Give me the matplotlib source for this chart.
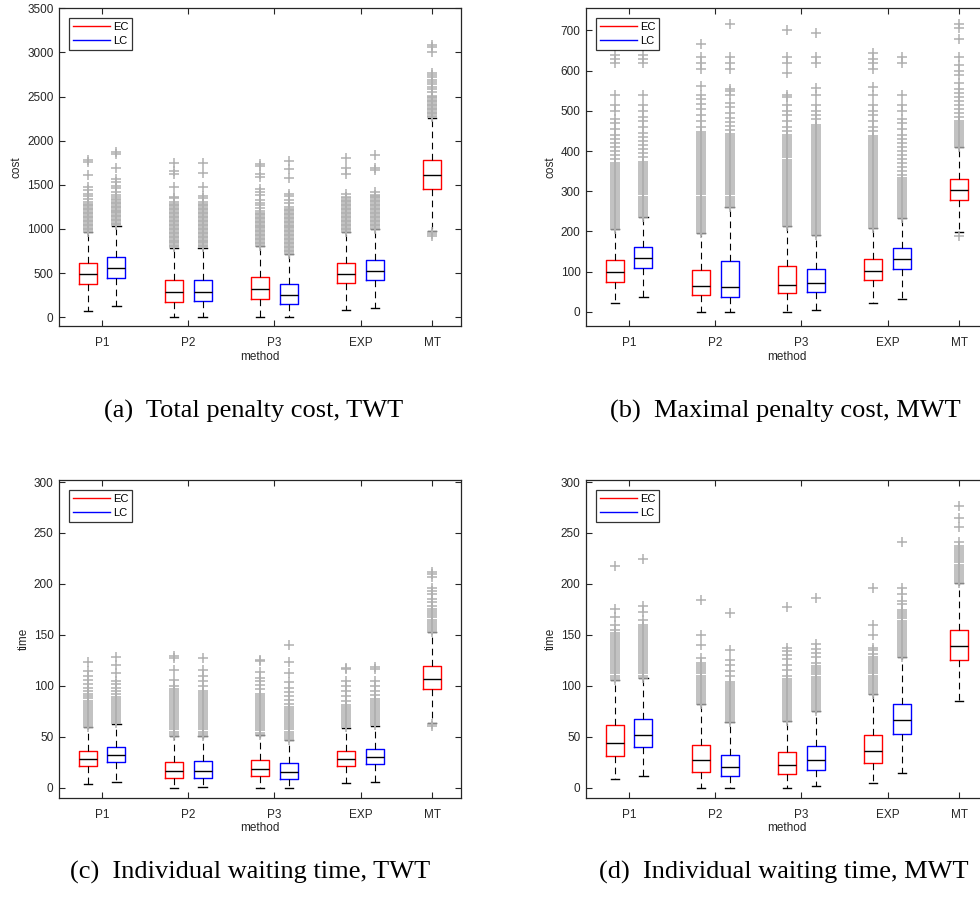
import matplotlib
matplotlib.use("Agg")
import matplotlib.pyplot as plt
from matplotlib.lines import Line2D

# ==============================
# Data: box summaries [whisker low, q1, median, q3, whisker high]
# groups: P1, P2, P3, EXP, MT  (MT only has an EC box)
# ==============================
methods = ["P1", "P2", "P3", "EXP", "MT"]

# (a) total penalty cost, TWT
a_ec_box = [[72, 375, 485, 614, 966], [0, 170, 280, 417, 784], [4, 205, 314, 451, 810],
            [83, 383, 492, 614, 966], [981, 1455, 1606, 1777, 2261]]
a_lc_box = [[121, 447, 557, 686, 1030], [0, 182, 288, 424, 784], [0, 148, 250, 375, 716],
            [102, 420, 527, 652, 1000]]
a_ec_fliers = [
    [970, 985, 1000, 1015, 1030, 1045, 1060, 1075, 1090, 1105, 1120, 1135, 1150, 1165, 1180, 1195, 1210, 1225,
     1240, 1255, 1270, 1285, 1300, 1340, 1370, 1400, 1440, 1480, 1610, 1760, 1785],
    [790, 805, 820, 835, 850, 865, 880, 895, 910, 925, 940, 955, 970, 985, 1000, 1015, 1030, 1045, 1060, 1075,
     1090, 1105, 1120, 1135, 1150, 1165, 1180, 1195, 1210, 1225, 1240, 1255, 1270, 1285, 1300, 1345, 1365, 1470,
     1625, 1655, 1745],
    [810, 825, 840, 855, 870, 885, 900, 915, 930, 945, 960, 975, 990, 1005, 1020, 1035, 1050, 1065, 1080, 1095,
     1110, 1125, 1140, 1155, 1170, 1185, 1200, 1240, 1270, 1290, 1330, 1380, 1420, 1455, 1585, 1625, 1710, 1735],
    [970, 985, 1000, 1015, 1030, 1045, 1060, 1075, 1090, 1105, 1120, 1135, 1150, 1165, 1180, 1195, 1210, 1225,
     1240, 1255, 1270, 1285, 1300, 1315, 1330, 1345, 1360, 1400, 1625, 1690, 1800],
    [920, 940, 965, 2270, 2285, 2300, 2315, 2330, 2345, 2360, 2375, 2390, 2405, 2420, 2435, 2450, 2465, 2480,
     2495, 2510, 2550, 2580, 2610, 2640, 2665, 2690, 2720, 2745, 2765, 3000, 3060, 3085],
]
a_lc_fliers = [
    [1040, 1055, 1070, 1085, 1100, 1115, 1130, 1145, 1160, 1175, 1190, 1205, 1220, 1235, 1250, 1265, 1280, 1295,
     1310, 1325, 1340, 1360, 1390, 1420, 1460, 1490, 1530, 1570, 1690, 1850, 1875],
    [790, 805, 820, 835, 850, 865, 880, 895, 910, 925, 940, 955, 970, 985, 1000, 1015, 1030, 1045, 1060, 1075,
     1090, 1105, 1120, 1135, 1150, 1165, 1180, 1195, 1210, 1225, 1240, 1255, 1270, 1285, 1305, 1350, 1370, 1475,
     1630, 1750],
    [720, 735, 750, 765, 780, 795, 810, 825, 840, 855, 870, 885, 900, 915, 930, 945, 960, 975, 990, 1005, 1020,
     1035, 1050, 1065, 1080, 1095, 1110, 1125, 1140, 1155, 1170, 1185, 1200, 1215, 1230, 1250, 1290, 1330, 1370,
     1400, 1580, 1675, 1765],
    [1000, 1015, 1030, 1045, 1060, 1075, 1090, 1105, 1120, 1135, 1150, 1165, 1180, 1195, 1210, 1225, 1240, 1255,
     1270, 1285, 1300, 1315, 1330, 1345, 1360, 1375, 1390, 1420, 1670, 1695, 1835],
]

# (b) maximal penalty cost, MWT
b_ec_box = [[22, 75, 100, 128, 205], [0, 42, 65, 105, 197], [0, 46, 68, 114, 214],
            [21, 79, 103, 132, 208], [198, 278, 303, 331, 411]]
b_lc_box = [[36, 109, 133, 161, 237], [0, 36, 61, 127, 262], [5, 49, 71, 106, 191],
            [33, 107, 132, 158, 233]]
b_ec_fliers = [
    [205, 210, 215, 220, 225, 230, 235, 240, 245, 250, 255, 260, 265, 270, 275, 280, 285, 290, 295, 300, 305, 310,
     315, 320, 325, 330, 335, 340, 345, 350, 355, 360, 365, 370, 380, 390, 400, 410, 420, 430, 440, 455, 470, 480,
     500, 515, 540, 620, 630, 640],
    [197, 202, 207, 212, 217, 222, 227, 232, 237, 242, 247, 252, 257, 262, 267, 272, 277, 282, 287, 292, 297, 302,
     307, 312, 317, 322, 327, 332, 337, 342, 347, 352, 357, 362, 367, 372, 377, 382, 387, 392, 397, 402, 407, 412,
     417, 422, 427, 432, 437, 442, 447, 460, 475, 490, 505, 518, 530, 540, 562, 605, 620, 635, 665],
    [214, 219, 224, 229, 234, 239, 244, 249, 254, 259, 264, 269, 274, 279, 284, 289, 294, 299, 304, 309, 314, 319,
     324, 329, 334, 339, 344, 349, 354, 359, 364, 369, 374, 379, 384, 389, 394, 399, 404, 409, 414, 419, 424, 429,
     434, 439, 450, 460, 475, 490, 500, 515, 535, 540, 594, 620, 635, 700],
    [208, 213, 218, 223, 228, 233, 238, 243, 248, 253, 258, 263, 268, 273, 278, 283, 288, 293, 298, 303, 308, 313,
     318, 323, 328, 333, 338, 343, 348, 353, 358, 363, 368, 373, 378, 383, 388, 393, 398, 403, 408, 413, 418, 423,
     428, 433, 438, 450, 460, 475, 490, 500, 515, 540, 560, 603, 620, 630, 645],
    [188, 411, 416, 421, 426, 431, 436, 441, 446, 451, 456, 461, 466, 471, 476, 485, 495, 505, 515, 525, 535, 545,
     555, 570, 590, 600, 615, 635, 678, 705, 716],
]
b_lc_fliers = [
    [237, 242, 247, 252, 257, 262, 267, 272, 277, 282, 287, 292, 297, 302, 307, 312, 317, 322, 327, 332, 337, 342,
     347, 352, 357, 362, 367, 372, 385, 395, 405, 415, 425, 435, 445, 460, 475, 485, 500, 515, 540, 620, 630, 640],
    [262, 267, 272, 277, 282, 287, 292, 297, 302, 307, 312, 317, 322, 327, 332, 337, 342, 347, 352, 357, 362, 367,
     372, 377, 382, 387, 392, 397, 402, 407, 412, 417, 422, 427, 432, 437, 442, 452, 462, 472, 482, 495, 510, 520,
     540, 550, 555, 605, 620, 635, 717],
    [191, 196, 201, 206, 211, 216, 221, 226, 231, 236, 241, 246, 251, 256, 261, 266, 271, 276, 281, 286, 291, 296,
     301, 306, 311, 316, 321, 326, 331, 336, 341, 346, 351, 356, 361, 366, 371, 376, 381, 386, 391, 396, 401, 406,
     411, 416, 421, 426, 431, 436, 441, 446, 451, 456, 461, 466, 480, 490, 500, 515, 540, 558, 620, 635, 693],
    [233, 238, 243, 248, 253, 258, 263, 268, 273, 278, 283, 288, 293, 298, 303, 308, 313, 318, 323, 328, 333, 340,
     350, 360, 370, 380, 390, 400, 410, 420, 430, 440, 455, 470, 480, 500, 515, 540, 620, 635],
]

# (c) individual waiting time, TWT
c_ec_box = [[3.3, 21, 28, 36, 59], [0, 9.2, 16, 25.5, 50.8], [0, 11, 18, 27, 51.4],
            [4, 21.3, 28, 36, 58.3], [63, 97, 107, 119.6, 153]]
c_lc_box = [[5.2, 24.6, 32, 40, 62.6], [0.3, 9.8, 16.7, 26, 50.8], [0, 8.5, 15, 23.6, 46.5],
            [5, 23.3, 30, 38, 60.3]]
c_ec_fliers = [
    [59, 61, 63, 65, 67, 69, 71, 73, 75, 77, 79, 81, 83, 85, 88, 90, 92, 95, 98, 102, 106, 110, 114, 123],
    [51, 53, 55, 57, 59, 61, 63, 65, 67, 69, 71, 73, 75, 77, 79, 81, 83, 85, 87, 89, 91, 93, 95, 97, 100, 106,
     115, 127, 129],
    [52, 54, 56, 58, 60, 62, 64, 66, 68, 70, 72, 74, 76, 78, 80, 82, 84, 86, 88, 90, 92, 97, 101, 105, 108, 113,
     124, 125],
    [59, 61, 63, 65, 67, 69, 71, 73, 75, 77, 79, 81, 85, 90, 95, 100, 105, 116, 117],
    [60, 62, 153, 155, 157, 159, 161, 163, 165, 167, 169, 171, 173, 175, 178, 182, 185, 190, 193, 196, 207, 210, 212],
]
c_lc_fliers = [
    [63, 65, 67, 69, 71, 73, 75, 77, 79, 81, 83, 85, 87, 89, 92, 95, 98, 102, 105, 112, 120, 128],
    [51, 53, 55, 57, 59, 61, 63, 65, 67, 69, 71, 73, 75, 77, 79, 81, 83, 85, 87, 89, 91, 93, 95, 100, 105, 110,
     115, 127],
    [47, 49, 51, 53, 55, 57, 59, 61, 63, 65, 67, 69, 71, 73, 75, 77, 79, 82, 86, 90, 94, 98, 104, 112, 123, 140],
    [61, 63, 65, 67, 69, 71, 73, 75, 77, 79, 81, 83, 85, 87, 91, 95, 100, 105, 116, 118],
]

# (d) individual waiting time, MWT
d_ec_box = [[8, 31, 44, 61, 105.5], [0, 15, 27, 42, 82], [0, 13.4, 22.3, 34.4, 65],
            [4.6, 24, 35.7, 51.4, 91.7], [85, 125, 139, 155, 201]]
d_lc_box = [[11.5, 39.6, 51.4, 67.5, 108], [0, 11, 20, 32.4, 64], [1, 17, 27, 40.3, 75],
            [14, 52.4, 66, 82.5, 128]]
d_ec_fliers = [
    [106, 108, 110, 112, 114, 116, 118, 120, 122, 124, 126, 128, 130, 132, 134, 136, 138, 140, 142, 144, 146, 148,
     150, 152, 155, 160, 167, 175, 218],
    [82, 84, 86, 88, 90, 92, 94, 96, 98, 100, 102, 104, 106, 108, 110, 112, 114, 116, 118, 120, 122, 127, 140,
     150, 184],
    [65, 67, 69, 71, 73, 75, 77, 79, 81, 83, 85, 87, 89, 91, 93, 95, 97, 99, 101, 103, 105, 107, 110, 115, 120,
     126, 130, 134, 137, 177],
    [92, 94, 96, 98, 100, 102, 104, 106, 108, 110, 112, 114, 116, 118, 120, 122, 124, 126, 128, 131, 135, 137,
     150, 160, 196],
    [201, 203, 205, 207, 209, 211, 213, 215, 217, 219, 221, 223, 225, 227, 229, 231, 233, 235, 237, 241, 256,
     265, 276],
]
d_lc_fliers = [
    [108, 110, 112, 114, 116, 118, 120, 122, 124, 126, 128, 130, 132, 134, 136, 138, 140, 142, 144, 146, 148, 150,
     152, 154, 156, 158, 160, 165, 172, 178, 224],
    [64, 66, 68, 70, 72, 74, 76, 78, 80, 82, 84, 86, 88, 90, 92, 94, 96, 98, 100, 102, 104, 110, 114, 120, 125,
     135, 171],
    [75, 77, 79, 81, 83, 85, 87, 89, 91, 93, 95, 97, 99, 101, 103, 105, 107, 109, 111, 113, 115, 117, 119, 122,
     128, 132, 136, 141, 186],
    [128, 130, 132, 134, 136, 138, 140, 142, 144, 146, 148, 150, 152, 154, 156, 158, 160, 162, 164, 166, 168, 170,
     172, 174, 180, 183, 190, 196, 241],
]

captions = ["(a)  Total penalty cost, TWT", "(b)  Maximal penalty cost, MWT",
            "(c)  Individual waiting time, TWT", "(d)  Individual waiting time, MWT"]

# ==============================
# Style
# ==============================
plt.rcParams["font.family"] = ["Liberation Sans", "DejaVu Sans"]
AX_COLOR = "#262626"
FLIER_GREY = "#b0b0b0"

ec_pos = [1, 4, 7, 10, 13]
lc_pos = [2, 5, 8, 11]
tick_pos = [1.5, 4.5, 7.5, 10.5, 13]


def to_stats(boxes, fliers):
    out = []
    for (lo, q1, med, q3, hi), fl in zip(boxes, fliers):
        out.append(dict(whislo=lo, q1=q1, med=med, q3=q3, whishi=hi, fliers=fl))
    return out


def draw_group(ax, boxes, fliers, positions, color):
    parts = ax.bxp(to_stats(boxes, fliers), positions=positions, widths=0.63, capwidths=0.29,
                   showfliers=True, manage_ticks=False,
                   boxprops=dict(color=color, lw=1.0),
                   medianprops=dict(color="black", lw=1.0),
                   whiskerprops=dict(color="black", lw=0.8, linestyle=(0, (6, 4))),
                   capprops=dict(color="black", lw=1.0),
                   flierprops=dict(marker="+", markeredgecolor=FLIER_GREY, markersize=6.5,
                                   markeredgewidth=1.1, linestyle="none"))
    # unsnapped markers blend into a smooth grey band where outliers pile up
    for fl in parts["fliers"]:
        fl.set_snap(False)


def draw_panel(ax, ec_box, ec_fl, lc_box, lc_fl, yticks, ylim, ylabel):
    draw_group(ax, ec_box, ec_fl, ec_pos, "red")
    draw_group(ax, lc_box, lc_fl, lc_pos, "blue")

    ax.set_xlim(0, 14)
    ax.set_ylim(*ylim)
    ax.set_xticks(tick_pos)
    ax.set_xticklabels(methods)
    ax.set_yticks(yticks)
    ax.tick_params(direction="in", length=4, width=0.8, colors=AX_COLOR,
                   top=True, right=True, labelsize=8.5)
    ax.tick_params(axis="x", pad=8)
    ax.tick_params(axis="y", pad=4)
    for sp in ax.spines.values():
        sp.set_color(AX_COLOR)
        sp.set_linewidth(0.9)
    ax.set_xlabel("method", fontsize=8.5, color=AX_COLOR, labelpad=1)
    ax.set_ylabel(ylabel, fontsize=8.5, color=AX_COLOR, labelpad=3)

    handles = [Line2D([], [], color="red", lw=1.0), Line2D([], [], color="blue", lw=1.0)]
    leg = ax.legend(handles, ["EC", "LC"], loc="upper left",
                    bbox_to_anchor=(10 / 402, 1 - 10 / 318), borderaxespad=0,
                    fontsize=8, handlelength=3.3, handletextpad=0.3,
                    labelspacing=0.35, borderpad=0.35, fancybox=False)
    leg.get_frame().set_edgecolor("black")
    leg.get_frame().set_linewidth(0.9)


# ==============================
# Figure: 2 x 2 panels with captions
# ==============================
fig = plt.figure(figsize=(9.8, 8.97), dpi=100)

W, H = 402 / 980, 317.7 / 897
ax_a = fig.add_axes([59 / 980, 1 - 326 / 897, W, H])
ax_b = fig.add_axes([586 / 980, 1 - 326 / 897, W, H])
ax_c = fig.add_axes([59 / 980, 1 - 797.7 / 897, W, H])
ax_d = fig.add_axes([586 / 980, 1 - 797.7 / 897, W, H])

draw_panel(ax_a, a_ec_box, a_ec_fliers, a_lc_box, a_lc_fliers,
           range(0, 3501, 500), (-100, 3500), "cost")
draw_panel(ax_b, b_ec_box, b_ec_fliers, b_lc_box, b_lc_fliers,
           range(0, 701, 100), (-35, 755), "cost")
draw_panel(ax_c, c_ec_box, c_ec_fliers, c_lc_box, c_lc_fliers,
           range(0, 301, 50), (-10, 302), "time")
draw_panel(ax_d, d_ec_box, d_ec_fliers, d_lc_box, d_lc_fliers,
           range(0, 301, 50), (-10, 302), "time")

cap_xy = [(253.5, 418), (785, 418), (250, 879), (784, 879)]
for text, (x, y) in zip(captions, cap_xy):
    fig.text(x / 980, 1 - y / 897, text, ha="center", va="baseline",
             fontsize=19, family=["Liberation Serif", "DejaVu Serif"])

fig.savefig("out.png", dpi=100)
